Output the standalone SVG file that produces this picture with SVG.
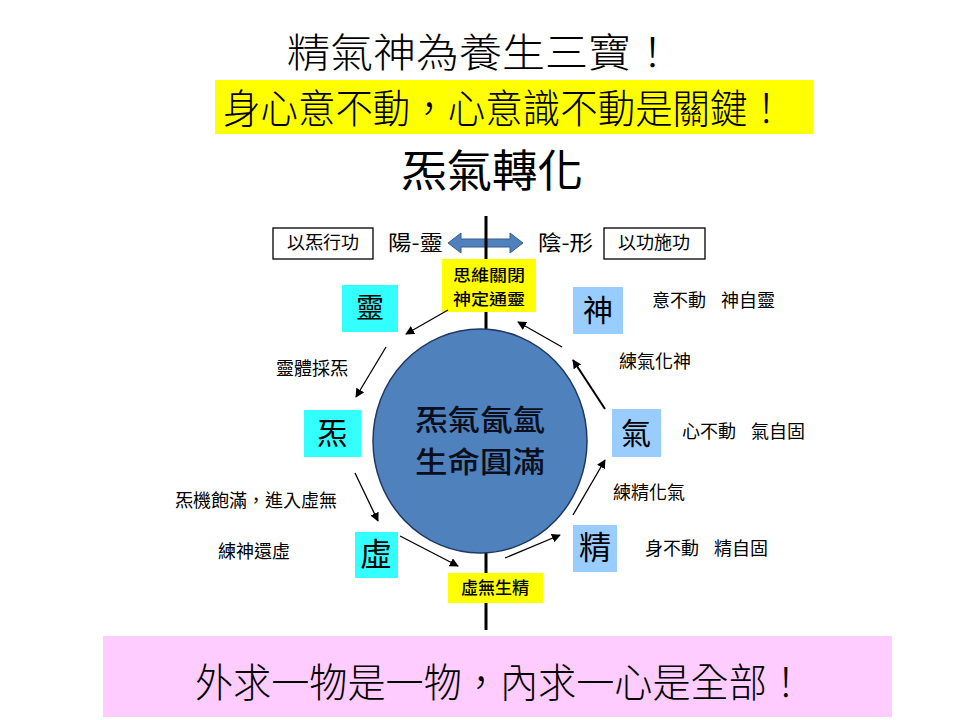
<svg xmlns="http://www.w3.org/2000/svg" width="960" height="720" viewBox="0 0 960 720">
<defs>
<style>
text{font-family:"Noto Sans CJK TC","Noto Sans CJK SC",sans-serif;fill:#000}
.big{font-size:40px;font-weight:300}
.lbl{font-size:18px}
.node{font-size:30px;text-anchor:middle}
.cyan{fill:#33FFFF}
.blue{fill:#99CCFF}
.yel{fill:#FFFF00}
.conn line{stroke:#000;stroke-width:1.3;marker-end:url(#ah)}
</style>
<marker id="ah" viewBox="0 0 10 10" refX="9" refY="5" markerWidth="9" markerHeight="9" markerUnits="userSpaceOnUse" orient="auto">
<path d="M0,0 L10,5 L0,10 z" fill="#000"/>
</marker>
</defs>
<rect width="960" height="720" fill="#fff"/>

<g id="title">
<text class="big" x="287" y="67" textLength="387" lengthAdjust="spacingAndGlyphs">精氣神為養生三寶！</text>
</g>
<g id="banner-top">
<rect x="215" y="80" width="598" height="54" class="yel"/>
<text class="big" x="223" y="123" textLength="562" lengthAdjust="spacingAndGlyphs">身心意不動，心意識不動是關鍵！</text>
</g>

<g id="heading">
<text x="492" y="187" text-anchor="middle" style="font-size:44px" textLength="182" lengthAdjust="spacingAndGlyphs">炁氣轉化</text>
</g>

<g id="yang-box">
<rect x="273" y="228" width="100" height="31" fill="#fff" stroke="#000" stroke-width="1.3"/>
<text class="lbl" x="323" y="249" text-anchor="middle">以炁行功</text>
</g>
<g id="yin-box">
<rect x="604" y="228" width="101" height="31" fill="#fff" stroke="#000" stroke-width="1.3"/>
<text class="lbl" x="654" y="249" text-anchor="middle">以功施功</text>
</g>
<g id="yang-label"><text x="388" y="250" style="font-size:21px" textLength="55" lengthAdjust="spacingAndGlyphs">陽-靈</text></g>
<g id="yin-label"><text x="538" y="250" style="font-size:21px" textLength="55" lengthAdjust="spacingAndGlyphs">陰-形</text></g>

<g id="double-arrow">
<polygon points="448,243 461,233 461,239 510,239 510,233 523,243 510,253 510,247 461,247 461,253" fill="#4F81BD" stroke="#385D8A" stroke-width="1"/>
</g>

<g id="axis">
<line x1="486" y1="216" x2="486" y2="630" stroke="#000" stroke-width="3"/>
</g>

<g id="center">
<ellipse cx="480" cy="441" rx="107" ry="112" fill="#4F81BD" stroke="#1F3864" stroke-width="1.5"/>
<text x="480" y="431" text-anchor="middle" style="font-size:29px;font-weight:500;fill:#0a0f1e" textLength="130" lengthAdjust="spacingAndGlyphs">炁氣氤氳</text>
<text x="480" y="473" text-anchor="middle" style="font-size:29px;font-weight:500;fill:#0a0f1e" textLength="130" lengthAdjust="spacingAndGlyphs">生命圓滿</text>
</g>

<g id="top-yellow">
<rect x="442" y="259" width="94" height="53" class="yel"/>
<text x="489" y="281" text-anchor="middle" style="font-size:16px;font-weight:500" textLength="72" lengthAdjust="spacingAndGlyphs">思維關閉</text>
<text x="489" y="305" text-anchor="middle" style="font-size:16px;font-weight:500" textLength="72" lengthAdjust="spacingAndGlyphs">神定通靈</text>
</g>
<g id="bottom-yellow">
<rect x="448" y="573" width="95" height="30" class="yel"/>
<text x="495" y="594" text-anchor="middle" style="font-size:17px;font-weight:500">虛無生精</text>
</g>

<g id="node-ling">
<rect x="342" y="285" width="56" height="47" class="cyan"/>
<text class="node" x="370" y="318" style="font-size:28px">靈</text>
</g>
<g id="node-xi">
<rect x="304" y="410" width="57" height="47" class="cyan"/>
<text class="node" x="332" y="444">炁</text>
</g>
<g id="node-xu">
<rect x="355" y="532" width="43" height="46" class="cyan"/>
<text class="node" x="376" y="566" style="font-size:32px">虛</text>
</g>
<g id="node-shen">
<rect x="573" y="287" width="50" height="47" class="blue"/>
<text class="node" x="598" y="321">神</text>
</g>
<g id="node-qi">
<rect x="612" y="409" width="49" height="48" class="blue"/>
<text class="node" x="636" y="444">氣</text>
</g>
<g id="node-jing">
<rect x="573" y="525" width="44" height="47" class="blue"/>
<text class="node" x="595" y="559" style="font-size:32px">精</text>
</g>

<g id="labels">
<text class="lbl" x="276" y="375">靈體採炁</text>
<text class="lbl" x="175" y="507">炁機飽滿，進入虛無</text>
<text class="lbl" x="218" y="558">練神還虛</text>
<text class="lbl" x="652" y="307">意不動</text>
<text class="lbl" x="721" y="307">神自靈</text>
<text class="lbl" x="619" y="368">練氣化神</text>
<text class="lbl" x="682" y="438">心不動</text>
<text class="lbl" x="751" y="438">氣自固</text>
<text class="lbl" x="613" y="499">練精化氣</text>
<text class="lbl" x="645" y="555">身不動</text>
<text class="lbl" x="714" y="555">精自固</text>
</g>

<g id="connectors" class="conn">
<line x1="448" y1="310" x2="406" y2="334"/>
<line x1="386" y1="347" x2="356" y2="397"/>
<line x1="355" y1="473" x2="378" y2="521"/>
<line x1="400" y1="536" x2="458" y2="566"/>
<line x1="505" y1="558" x2="560" y2="535"/>
<line x1="573" y1="515" x2="605" y2="460"/>
<line x1="605" y1="409" x2="573" y2="360" style="stroke-width:2"/>
<line x1="562" y1="347" x2="518" y2="322"/>
</g>

<g id="banner-bottom">
<rect x="103" y="636" width="789" height="81" fill="#FFCCFF"/>
<text class="big" x="195" y="697" textLength="610" lengthAdjust="spacingAndGlyphs">外求一物是一物，內求一心是全部！</text>
</g>
</svg>
